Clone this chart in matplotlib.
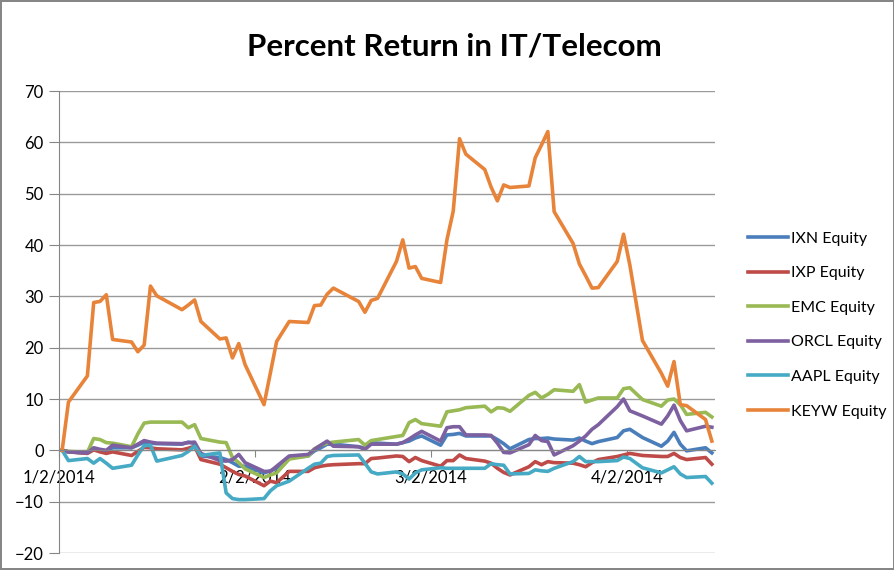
import datetime as dt

import matplotlib
import matplotlib.pyplot as plt
import matplotlib.dates as mdates

matplotlib.use('Agg')

plt.rcParams['font.family'] = ['Lato', 'DejaVu Sans']

# trading dates (2014) used in the chart
dates = ['1/2', '1/3', '1/6', '1/7', '1/8', '1/9', '1/10', '1/13', '1/14', '1/15',
         '1/16', '1/17', '1/21', '1/22', '1/23', '1/24', '1/27', '1/28', '1/29', '1/30',
         '1/31', '2/3', '2/4', '2/5', '2/7', '2/10', '2/11', '2/12', '2/13', '2/14',
         '2/18', '2/19', '2/20', '2/21', '2/24', '2/25', '2/26', '2/27', '2/28', '3/3',
         '3/4', '3/5', '3/6', '3/7', '3/10', '3/11', '3/12', '3/13', '3/14', '3/17',
         '3/18', '3/19', '3/20', '3/21', '3/24', '3/25', '3/26', '3/27', '3/28', '3/31',
         '4/1', '4/2', '4/4', '4/7', '4/8', '4/9', '4/10', '4/11', '4/14', '4/15']

ixn = [0, -0.3, -0.5, 0.3, 0.0, -0.1, 0.5, 0.5, 1.0, 1.6,
       1.4, 1.3, 1.2, 1.6, 1.3, -1.1, -1.4, -1.8, -2.4, -3.1,
       -3.1, -4.4, -4.0, -3.5, -1.4, -1.1, -0.1, 0.5, 1.2, 1.2,
       0.7, 0.4, 1.5, 1.4, 1.2, 1.5, 1.8, 2.4, 2.8, 1.0,
       3.0, 3.1, 3.3, 2.8, 2.8, 2.8, 2.1, 1.3, 0.3, 2.1,
       2.3, 2.3, 2.4, 2.2, 2.0, 2.4, 1.8, 1.3, 1.7, 2.5,
       3.8, 4.1, 2.5, 0.8, 1.8, 3.5, 1.2, -0.1, 0.5, -0.5]

ixp = [0, -0.3, -0.6, 0.1, -0.3, -0.6, -0.3, -1.0, -0.2, 0.6,
       0.5, 0.3, 0.1, 0.4, 0.8, -1.8, -2.7, -3.4, -4.1, -4.7,
       -5.0, -6.9, -6.0, -6.3, -4.1, -4.1, -3.4, -3.1, -2.9, -2.8,
       -2.6, -2.6, -1.6, -1.5, -1.1, -1.2, -2.2, -1.4, -2.0, -3.1,
       -2.0, -2.0, -0.9, -1.6, -2.1, -2.5, -3.5, -4.3, -4.8, -3.2,
       -2.2, -2.8, -2.2, -2.4, -2.5, -2.8, -3.2, -2.4, -1.8, -1.2,
       -0.9, -0.6, -1.0, -1.2, -1.2, -0.6, -1.4, -1.8, -1.4, -2.7]

emc = [0, -0.2, -0.4, 2.3, 2.1, 1.5, 1.4, 0.7, 3.2, 5.3,
       5.5, 5.5, 5.5, 4.4, 5.0, 2.3, 1.6, 1.5, -1.4, -2.4,
       -3.6, -5.3, -4.8, -4.4, -1.7, -1.1, 0.3, 1.0, 1.4, 1.6,
       2.1, 1.0, 1.9, 2.1, 2.7, 2.9, 5.4, 6.0, 5.2, 4.7,
       7.5, 7.7, 7.9, 8.3, 8.6, 7.5, 8.3, 8.2, 7.6, 10.7,
       11.3, 10.2, 10.9, 11.8, 11.5, 12.8, 9.4, 9.8, 10.2, 10.2,
       12.0, 12.2, 9.9, 8.6, 9.8, 10.0, 8.9, 7.0, 7.4, 6.5]

orcl = [0, -0.3, -0.5, 0.5, 0.2, 0.0, 1.0, 0.5, 1.2, 1.9,
        1.6, 1.4, 1.3, 1.5, 1.6, -0.6, -2.0, -2.1, -1.8, -0.8,
        -2.4, -4.1, -4.1, -3.1, -1.1, -0.8, 0.2, 1.0, 1.8, 0.8,
        0.7, 0.2, 1.2, 1.2, 1.2, 1.5, 2.2, 3.0, 3.7, 1.8,
        4.4, 4.6, 4.6, 3.0, 3.0, 2.9, 1.4, -0.4, -0.5, 1.1,
        2.9, 1.9, 1.7, -0.9, 0.9, 1.8, 2.8, 4.1, 5.0, 8.5,
        10.0, 7.7, 6.7, 5.1, 6.7, 8.8, 5.8, 3.8, 4.7, 4.5]

aapl = [0, -2.0, -1.6, -2.5, -1.6, -2.5, -3.5, -2.9, -0.9, 0.9,
        1.0, -2.1, -1.0, -0.2, 0.8, -1.0, -0.5, -8.3, -9.4, -9.6,
        -9.6, -9.4, -7.9, -6.9, -6.0, -3.5, -2.7, -2.5, -1.2, -1.0,
        -0.9, -2.5, -4.2, -4.6, -4.2, -4.6, -5.6, -4.4, -3.8, -3.4,
        -3.5, -3.5, -3.5, -3.5, -3.5, -2.6, -2.8, -2.9, -4.6, -4.5,
        -3.8, -4.0, -4.1, -3.5, -2.2, -1.2, -2.2, -2.2, -2.2, -2.0,
        -1.3, -1.6, -3.4, -4.4, -3.8, -3.2, -4.6, -5.3, -5.1, -6.4]

keyw = [0, 9.4, 14.5, 28.8, 29.0, 30.3, 21.6, 21.1, 19.2, 20.5,
        32.0, 30.1, 27.4, 28.3, 29.3, 25.1, 21.7, 21.9, 18.0, 20.8,
        16.7, 8.9, 15.0, 21.2, 25.1, 24.9, 28.2, 28.3, 30.4, 31.6,
        29.0, 26.9, 29.2, 29.6, 36.8, 41.0, 35.5, 35.8, 33.5, 32.7,
        41.0, 46.6, 60.7, 57.7, 54.7, 51.3, 48.6, 51.7, 51.2, 51.5,
        57.0, 59.5, 62.1, 46.5, 40.3, 36.3, 34.0, 31.6, 31.7, 36.8,
        42.1, 36.1, 21.4, 15.0, 12.5, 17.3, 8.9, 8.7, 6.0, 1.8]

names = ['IXN Equity', 'IXP Equity', 'EMC Equity', 'ORCL Equity', 'AAPL Equity', 'KEYW Equity']
colors = ['#4A7EBB', '#BE4B48', '#98B954', '#7D60A0', '#46AAC5', '#E8843A']
tick_dates = ['1/2/2014', '2/2/2014', '3/2/2014', '4/2/2014']

x = [dt.datetime.strptime(d + '/2014', '%m/%d/%Y') for d in dates]
xnum = mdates.date2num(x)

fig = plt.figure(figsize=(8.95, 5.7), dpi=100)
fig.patch.set_edgecolor('#868686')
fig.patch.set_linewidth(1.5)
ax = fig.add_axes([59 / 895, 1 - 553 / 570, (715 - 59) / 895, (553 - 91) / 570])

for series, name, c in zip([ixn, ixp, emc, orcl, aapl, keyw], names, colors):
    ax.plot(xnum, series, color=c, lw=2.6, label=name, solid_joinstyle='round')

ax.set_ylim(-20, 70)
ax.set_yticks(range(-20, 71, 10))
ax.set_xlim(xnum[0] - 0.5, xnum[-1] + 0.5)
tick_num = [mdates.date2num(dt.datetime.strptime(t, '%m/%d/%Y')) - 0.5 for t in tick_dates]
ax.set_xticks(tick_num)
ax.set_xticklabels(tick_dates)

ax.grid(axis='y', color='#9a9a9a', lw=1)
ax.set_axisbelow(True)
for s in ['top', 'right']:
    ax.spines[s].set_visible(False)
ax.spines['left'].set_color('#868686')
ax.spines['bottom'].set_color('#868686')
ax.spines['bottom'].set_position(('data', 0))
ax.tick_params(axis='y', colors='#868686', length=7, pad=4, labelsize=12, labelcolor='black')
ax.tick_params(axis='x', colors='#868686', length=5, pad=9, labelsize=12, labelcolor='black')

fig.text(0.508, 0.918, 'Percent Return in IT/Telecom', ha='center', va='center',
         fontsize=22.5, fontweight='bold')

fig.legend(loc='upper left', bbox_to_anchor=(734 / 895, 1 - 217 / 570), frameon=False,
           fontsize=11.5, handlelength=2.5, handletextpad=0.2, labelspacing=1.28)

plt.savefig('out.png', dpi=100)
plt.close()
